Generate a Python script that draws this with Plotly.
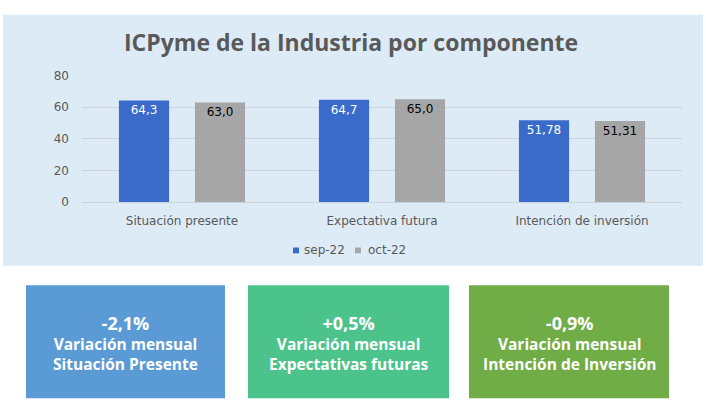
import plotly.graph_objects as go

categories = ["Situación presente", "Expectativa futura", "Intención de inversión"]
sep_values = [64.3, 64.7, 51.78]
oct_values = [63.0, 65.0, 51.31]
sep_labels = ["64,3", "64,7", "51,78"]
oct_labels = ["63,0", "65,0", "51,31"]
series_names = ["sep-22", "oct-22"]
series_colors = ["#3A6BCB", "#A6A6A6"]
y_ticks = [0, 20, 40, 60, 80]

box_values = ["-2,1%", "+0,5%", "-0,9%"]
box_line1 = ["Variación mensual", "Variación mensual", "Variación mensual"]
box_line2 = ["Situación Presente", "Expectativas futuras", "Intención de Inversión"]
box_colors = ["#5B9BD5", "#4CC38B", "#70AD47"]

W, H = 706, 411


def px(x):
    return x / W


def py(y):
    return 1 - y / H


fig = go.Figure()
fig.add_trace(go.Bar(
    x=categories, y=sep_values, name=series_names[0],
    text=sep_labels, textposition="inside", insidetextanchor="end",
    textfont=dict(color="white", size=12, family="DejaVu Sans"),
    marker=dict(color=series_colors[0], line=dict(width=0)),
))
fig.add_trace(go.Bar(
    x=categories, y=oct_values, name=series_names[1],
    text=oct_labels, textposition="inside", insidetextanchor="end",
    textfont=dict(color="black", size=12, family="DejaVu Sans"),
    marker=dict(color=series_colors[1], line=dict(width=0)),
))

shapes = [dict(type="rect", xref="paper", yref="paper",
               x0=px(3), x1=px(703), y0=py(268), y1=py(8),
               fillcolor="#DDEBF7", line=dict(width=0), layer="below")]
annotations = [dict(text="<b>ICPyme de la Industria por componente</b>",
                    xref="paper", yref="paper", x=px(351), y=py(36),
                    showarrow=False, font=dict(size=23, color="#595959", family="Open Sans"),
                    xanchor="center", yanchor="middle")]

# custom compact legend
leg_items = [(293, 302), (355, 366)]
for i, (sx, tx) in enumerate(leg_items):
    shapes.append(dict(type="rect", xref="paper", yref="paper",
                       x0=px(sx), x1=px(sx + 6), y0=py(255), y1=py(249),
                       fillcolor=series_colors[i], line=dict(width=0)))
    annotations.append(dict(text=series_names[i], xref="paper", yref="paper",
                            x=px(tx), y=py(252), showarrow=False,
                            xanchor="left", yanchor="middle",
                            font=dict(size=12, color="#595959", family="DejaVu Sans")))

box_x = [(26, 225), (248, 449), (469, 669)]
for i, (x0, x1) in enumerate(box_x):
    shapes.append(dict(type="rect", xref="paper", yref="paper",
                       x0=px(x0), x1=px(x1), y0=py(405), y1=py(288),
                       fillcolor=box_colors[i], line=dict(width=0)))
    cx = px((x0 + x1) / 2)
    txt = ("<b><span style='font-size:18px'>" + box_values[i] + "</span><br>"
           + box_line1[i] + "<br>" + box_line2[i] + "</b>")
    annotations.append(dict(text=txt, xref="paper", yref="paper",
                            x=cx, y=py(348), showarrow=False,
                            font=dict(size=15.5, color="white", family="Open Sans"),
                            xanchor="center", yanchor="middle", align="center"))

fig.update_layout(
    width=W, height=H, autosize=False,
    margin=dict(l=0, r=0, t=0, b=0),
    paper_bgcolor="white", plot_bgcolor="rgba(0,0,0,0)",
    barmode="group", bargap=0.24, bargroupgap=0.34,
    shapes=shapes, annotations=annotations,
    showlegend=False,
    xaxis=dict(domain=[px(82), px(682)], showgrid=False, showline=False,
               tickfont=dict(size=12, color="#595959", family="DejaVu Sans"),
               ticks="", ticklabelstandoff=10, fixedrange=True),
    yaxis=dict(domain=[py(202), py(71)], range=[0, 80], tickvals=y_ticks,
               showgrid=True, gridcolor="#C9D3DD", gridwidth=1,
               zeroline=True, zerolinecolor="#C9D3DD", zerolinewidth=1,
               showline=False, ticks="", ticklabelstandoff=12, fixedrange=True,
               tickfont=dict(size=12, color="#595959", family="DejaVu Sans")),
)

fig.write_html(
    "out.html",
    config={"responsive": False, "displayModeBar": False},
    post_script="document.body.style.margin='0';document.body.style.overflow='hidden';",
)
